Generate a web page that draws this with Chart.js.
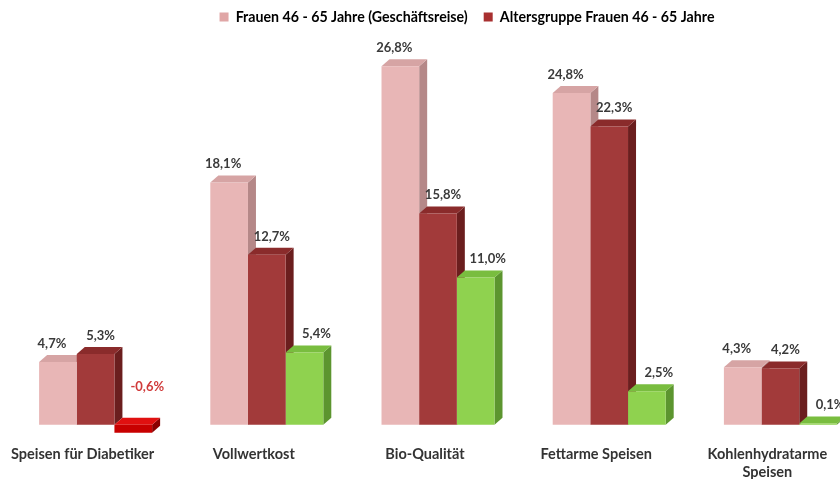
<html>
<head>
    <meta charset="utf-8" />
    <title>Frauen 46 - 65 Jahre</title>
    <script src="https://cdn.jsdelivr.net/npm/chart.js"></script>
    <style>
        html, body { margin: 0; padding: 0; background: #fff; overflow: hidden; }
        #box { width: 880px; height: 490px; }
    </style>
</head>
<body>
    <div id="box"><canvas id="grafico"></canvas></div>
    <script>
        // Daten
        let kategorien = ['Speisen für Diabetiker', 'Vollwertkost', 'Bio-Qualität', 'Fettarme Speisen', ['Kohlenhydratarme', 'Speisen']]
        let geschaeftsreise = [4.7, 18.1, 26.8, 24.8, 4.3]
        let altersgruppe = [5.3, 12.7, 15.8, 22.3, 4.2]
        let differenz = [-0.6, 5.4, 11.0, 2.5, 0.1]

        // Farben: Vorderseite, Seite, Deckel
        let farben = [
            { front: '#e8b6b6', side: '#b58888', top: '#d6a4a4' },
            { front: '#a23a3a', side: '#6b1e1e', top: '#8a2b2b' },
            { front: '#8fd24f', side: '#5c952f', top: '#79bd3f' }
        ]
        let negFarbe = { front: '#c80000', side: '#8a0000', top: '#e01010' }

        const DX = 8, DY = 7
        // Beschriftungen leicht seitlich versetzt, wie im Original
        const labelVersatz = [-6, 5, 12]

        // 3D Seiten und Deckel zuerst, Vorderseiten kommen danach von Chart.js
        const quader = {
            id: 'quader',
            afterLayout(chart) {
                // Legende sitzt im Original etwas rechts von der Mitte
                chart.legend.left += 29
                chart.legend.right += 29
            },
            beforeDatasetsDraw(chart) {
                const ctx = chart.ctx
                ctx.save()
                chart.data.datasets.forEach((ds, d) => {
                    chart.getDatasetMeta(d).data.forEach((el, i) => {
                        const p = el.getProps(['x', 'y', 'base', 'width'], true)
                        const f = ds.data[i] < 0 ? negFarbe : farben[d]
                        const l = p.x - p.width / 2, r = p.x + p.width / 2
                        const t = Math.min(p.y, p.base), b = Math.max(p.y, p.base)
                        ctx.fillStyle = f.side
                        ctx.beginPath()
                        ctx.moveTo(r, t); ctx.lineTo(r + DX, t - DY); ctx.lineTo(r + DX, b - DY); ctx.lineTo(r, b)
                        ctx.closePath(); ctx.fill()
                        ctx.fillStyle = f.top
                        ctx.beginPath()
                        ctx.moveTo(l, t); ctx.lineTo(l + DX, t - DY); ctx.lineTo(r + DX, t - DY); ctx.lineTo(r, t)
                        ctx.closePath(); ctx.fill()
                    })
                })
                ctx.restore()
            },
            afterDatasetsDraw(chart) {
                const ctx = chart.ctx
                ctx.save()
                ctx.font = 'bold 13px Lato'
                ctx.textAlign = 'center'
                ctx.textBaseline = 'bottom'
                chart.data.datasets.forEach((ds, d) => {
                    chart.getDatasetMeta(d).data.forEach((el, i) => {
                        const v = ds.data[i]
                        const p = el.getProps(['x', 'y', 'base'], true)
                        const txt = v.toFixed(1).replace('.', ',') + '%'
                        if (v < 0) {
                            ctx.fillStyle = '#d03a3a'
                            ctx.fillText(txt, p.x + 14, p.base - 32)
                        } else {
                            ctx.fillStyle = '#3a3a3a'
                            ctx.fillText(txt, p.x + labelVersatz[d], p.y - DY - 5)
                        }
                    })
                })
                ctx.restore()
            }
        }

        new Chart(document.getElementById('grafico'), {
            type: 'bar',
            data: {
                labels: kategorien,
                datasets: [
                    { label: 'Frauen 46 - 65 Jahre (Geschäftsreise)', data: geschaeftsreise, backgroundColor: farben[0].front },
                    { label: 'Altersgruppe Frauen 46 - 65 Jahre', data: altersgruppe, backgroundColor: farben[1].front },
                    { label: 'Differenz', data: differenz, backgroundColor: differenz.map(v => v < 0 ? negFarbe.front : farben[2].front) }
                ]
            },
            options: {
                responsive: true,
                maintainAspectRatio: false,
                animation: false,
                categoryPercentage: 0.66,
                barPercentage: 1,
                layout: { padding: { left: 10, right: 14, top: -6, bottom: 0 } },
                plugins: {
                    tooltip: { enabled: false },
                    legend: {
                        position: 'top',
                        labels: {
                            boxWidth: 9,
                            boxHeight: 9,
                            padding: 16,
                            color: '#333',
                            font: { family: 'Lato', size: 14.2, weight: 'bold' },
                            filter: item => item.datasetIndex < 2,
                            generateLabels(chart) {
                                return chart.data.datasets.map((ds, i) => ({
                                    text: ds.label,
                                    fillStyle: i == 0 ? '#e0a6a6' : '#a83030',
                                    strokeStyle: 'transparent',
                                    lineWidth: 0,
                                    datasetIndex: i
                                }))
                            }
                        }
                    }
                },
                scales: {
                    x: {
                        grid: { display: false, drawTicks: false },
                        border: { display: false },
                        ticks: {
                            padding: 9,
                            labelOffset: -13,
                            color: '#333',
                            font: { family: 'Lato', size: 14.5, weight: 'bold', lineHeight: 18 / 14.5 },
                            maxRotation: 0,
                            autoSkip: false
                        }
                    },
                    y: {
                        display: false,
                        min: -0.835,
                        max: 29.19
                    }
                }
            },
            plugins: [quader]
        });
    </script>
</body>
</html>
